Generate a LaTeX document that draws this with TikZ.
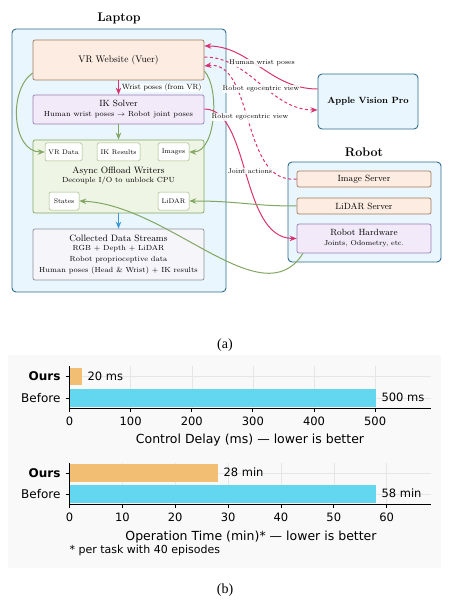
\documentclass[tikz,border=0pt]{standalone}
\usepackage{fontspec}
\newfontfamily\chartfont{DejaVu Sans}
\newfontfamily\capfont{Liberation Serif}
\usetikzlibrary{arrows.meta}
\definecolor{hubfill}{HTML}{E9F6FD}
\definecolor{hubline}{HTML}{2E6B8F}
\definecolor{peachfill}{HTML}{FDECE1}
\definecolor{peachline}{HTML}{A27A5C}
\definecolor{lavfill}{HTML}{F2EAF8}
\definecolor{lavline}{HTML}{9C7DB5}
\definecolor{grnfill}{HTML}{EEF5E5}
\definecolor{grnline}{HTML}{82A663}
\definecolor{grayfill}{HTML}{F6F6FA}
\definecolor{grayline}{HTML}{8E8E9A}
\definecolor{pinkarrow}{HTML}{D8336E}
\definecolor{bluearrow}{HTML}{3B9AD6}
\definecolor{barours}{HTML}{F2BE74}
\definecolor{barbefore}{HTML}{62D7EF}
\definecolor{chartbg}{HTML}{F9F9F9}
\definecolor{gridgray}{HTML}{E6E6E6}
\begin{document}
\begin{tikzpicture}[x=1pt,y=-1pt,
  box/.style={draw, rounded corners=2pt, line width=0.7pt, inner sep=0pt, align=center},
  hub/.style={box, fill=hubfill, draw=hubline, line width=0.9pt, rounded corners=4pt},
  title/.style={font=\fontsize{12.5}{14}\selectfont\bfseries},
  peachbox/.style={box, fill=peachfill, draw=peachline, font=\fontsize{9}{11}\selectfont},
  lavbox/.style={box, fill=lavfill, draw=lavline, font=\fontsize{9}{11}\selectfont},
  writer/.style={box, fill=grnfill, draw=grnline},
  chip/.style={box, fill=white, draw=grnline!80, line width=0.5pt, rounded corners=1.5pt, font=\fontsize{6.7}{7}\selectfont},
  pinkline/.style={draw=pinkarrow, line width=1pt, -{Stealth[length=7pt,width=5.5pt]}},
  dashline/.style={pinkline, dash pattern=on 3pt off 2.5pt},
  greenline/.style={draw=grnline, line width=1pt, -{Stealth[length=7pt,width=5.5pt]}},
  tag/.style={fill=white, fill opacity=0.85, text opacity=1, inner sep=0.6pt, font=\fontsize{6.9}{8}\selectfont},
  axis/.style={line width=0.8pt},
  grid/.style={draw=gridgray, line width=0.4pt},
  tick/.style={font=\chartfont\fontsize{11.5}{12}\selectfont},
  caption/.style={font=\capfont\fontsize{14}{15}\selectfont}]
\useasboundingbox (0,0) rectangle (455,604);

\node[title] at (119,18) (laptoptitle) {Laptop};
\node[hub, minimum width=214, minimum height=263] at (119,160.5) (laptop) {};
\node[peachbox, minimum width=171, minimum height=40, font=\fontsize{9.5}{11}\selectfont] at (118.5,60) (vr) {VR Website (Vuer)};
\node[lavbox, minimum width=171, minimum height=29] at (118.5,109.5) (ik) {IK Solver\\[-1pt]{\fontsize{7.4}{8}\selectfont Human wrist poses $\rightarrow$ Robot joint poses}};
\node[writer, minimum width=171, minimum height=73] at (118.5,176.5) (async) {};
\node[chip, minimum width=37, minimum height=18] at (63.5,152) (vrdata) {VR Data};
\node[chip, minimum width=43, minimum height=18] at (118.5,152) (ikres) {IK Results};
\node[chip, minimum width=31, minimum height=18] at (173.5,152) (images) {Images};
\node[align=center, font=\fontsize{9.2}{10}\selectfont] at (118.5,176) (asynctext) {Async Offload Writers\\[-1pt]{\fontsize{7.4}{8}\selectfont Decouple I/O to unblock CPU}};
\node[chip, minimum width=30, minimum height=18] at (64,201) (states) {States};
\node[chip, minimum width=31, minimum height=18] at (173.5,201) (lidar) {LiDAR};
\node[box, fill=grayfill, draw=grayline, minimum width=171, minimum height=51, font=\fontsize{9.2}{11}\selectfont] at (118.5,254.5) (streams) {Collected Data Streams\\[-1.5pt]
  {\fontsize{7.4}{11.5}\selectfont RGB + Depth + LiDAR}\\
  {\fontsize{7.4}{11.5}\selectfont Robot proprioceptive data}\\
  {\fontsize{7.4}{11.5}\selectfont Human poses (Head \& Wrist) + IK results}};

\node[hub, minimum width=100, minimum height=55, font=\fontsize{9}{11}\selectfont\bfseries] at (368,101.5) (avp) {Apple Vision Pro};
\node[title] at (364,152) (robottitle) {Robot};
\node[hub, minimum width=153, minimum height=100] at (364.5,212) (robot) {};
\node[peachbox, minimum width=134, minimum height=16] at (364,179) (imgserver) {Image Server};
\node[peachbox, minimum width=134, minimum height=16] at (364,206) (lidarserver) {LiDAR Server};
\node[lavbox, minimum width=134, minimum height=29] at (364,238.5) (hardware) {Robot Hardware\\[-1pt]{\fontsize{7.2}{8}\selectfont Joints, Odometry, etc.}};

\draw[pinkline] (vr) -- (ik);
\node[tag, anchor=west, font=\fontsize{7.5}{8}\selectfont] at (121,88) (wristtag) {Wrist poses (from VR)};
\draw[greenline] (ik) -- (async);
\draw[draw=bluearrow, line width=1pt, -{Stealth[length=7pt,width=5.5pt]}] (async) -- (streams);
\draw[greenline] ([yshift=-13pt]vr.west) .. controls (8,90) and (12,152) .. (vrdata.west);
\draw[greenline] ([yshift=-11pt]vr.east) .. controls (220,88) and (216,152) .. (images.east);

\draw[pinkline] ([yshift=12.5pt]avp.west) .. controls (270,89) and (250,46) .. ([yshift=14pt]vr.east);
\draw[dashline] ([yshift=3pt]vr.east) .. controls (250,57) and (270,110) .. ([yshift=-8.5pt]avp.west);
\draw[dashline] (imgserver.west) .. controls (240,185) and (255,60) .. ([yshift=-6pt]vr.east);
\draw[pinkline] ([yshift=0.5pt]ik.east) .. controls (250,109) and (240,238) .. (hardware.west);
\draw[greenline] (lidarserver.west) .. controls (250,206) and (240,201) .. (lidar.east);
\draw[greenline] ([xshift=-61pt]hardware.south) .. controls (262,318) and (170,205) .. (states.east);

\node[tag] at (262,63) (humantag) {Human wrist poses};
\node[tag] at (261,89) (egotag) {Robot egocentric view};
\node[tag] at (250,117) (egotagb) {Robot egocentric view};
\node[tag] at (250,171) (jointtag) {Joint actions};

\node[caption] at (225,345) (capa) {(a)};

\fill[chartbg] (8,355) rectangle (441,568);

% control delay
\foreach \v in {0,100,...,500} \draw[grid] ({69.5+0.6113*\v},366) -- ({69.5+0.6113*\v},408);
\foreach \y in {376.5,398} \draw[grid] (69.5,\y) -- (431,\y);
\fill[barours] (69.5,368) rectangle (81.7,385);
\fill[barbefore] (69.5,389) rectangle (375.7,407);
\draw[axis] (69.5,366) -- (69.5,408) -- (431,408);
\foreach \v in {0,100,...,500} {
  \draw[axis] ({69.5+0.6113*\v},408) -- ++(0,3.5);
  \node[tick] at ({69.5+0.6113*\v},421) {\v};
}
\draw[axis] (69.5,376.5) -- ++(-3.5,0);
\draw[axis] (69.5,398) -- ++(-3.5,0);
\node[tick, anchor=east, font=\chartfont\fontsize{12}{12}\selectfont\bfseries] at (64,376.5) (ours) {Ours};
\node[tick, anchor=east, font=\chartfont\fontsize{12}{12}\selectfont] at (64,398) (before) {Before};
\node[tick, anchor=west] at (84,376) (oursval) {20 ms};
\node[tick, anchor=west] at (378,397.5) (beforeval) {500 ms};
\node[font=\chartfont\fontsize{12.5}{13}\selectfont] at (250,440) (delaylabel) {Control Delay (ms) — lower is better};

% operation time
\foreach \v in {0,10,...,60} \draw[grid] ({69.5+5.286*\v},463) -- ({69.5+5.286*\v},504);
\foreach \y in {473,494} \draw[grid] (69.5,\y) -- (431,\y);
\fill[barours] (69.5,464) rectangle (217.5,481.7);
\fill[barbefore] (69.5,485) rectangle (376,502.7);
\draw[axis] (69.5,463) -- (69.5,504) -- (431,504);
\foreach \v in {0,10,...,60} {
  \draw[axis] ({69.5+5.286*\v},504) -- ++(0,3.5);
  \node[tick] at ({69.5+5.286*\v},517) {\v};
}
\draw[axis] (69.5,473) -- ++(-3.5,0);
\draw[axis] (69.5,494) -- ++(-3.5,0);
\node[tick, anchor=east, font=\chartfont\fontsize{12}{12}\selectfont\bfseries] at (64,473) (oursb) {Ours};
\node[tick, anchor=east, font=\chartfont\fontsize{12}{12}\selectfont] at (64,494) (beforeb) {Before};
\node[tick, anchor=west] at (220,472.5) (oursvalb) {28 min};
\node[tick, anchor=west] at (378,493) (beforevalb) {58 min};
\node[font=\chartfont\fontsize{12.5}{13}\selectfont] at (251,537) (timelabel) {Operation Time (min)* — lower is better};
\node[anchor=west, font=\chartfont\fontsize{11}{12}\selectfont] at (66,550) (footnote) {* per task with 40 episodes};

\node[caption] at (225,590) (capb) {(b)};
\end{tikzpicture}
\end{document}
